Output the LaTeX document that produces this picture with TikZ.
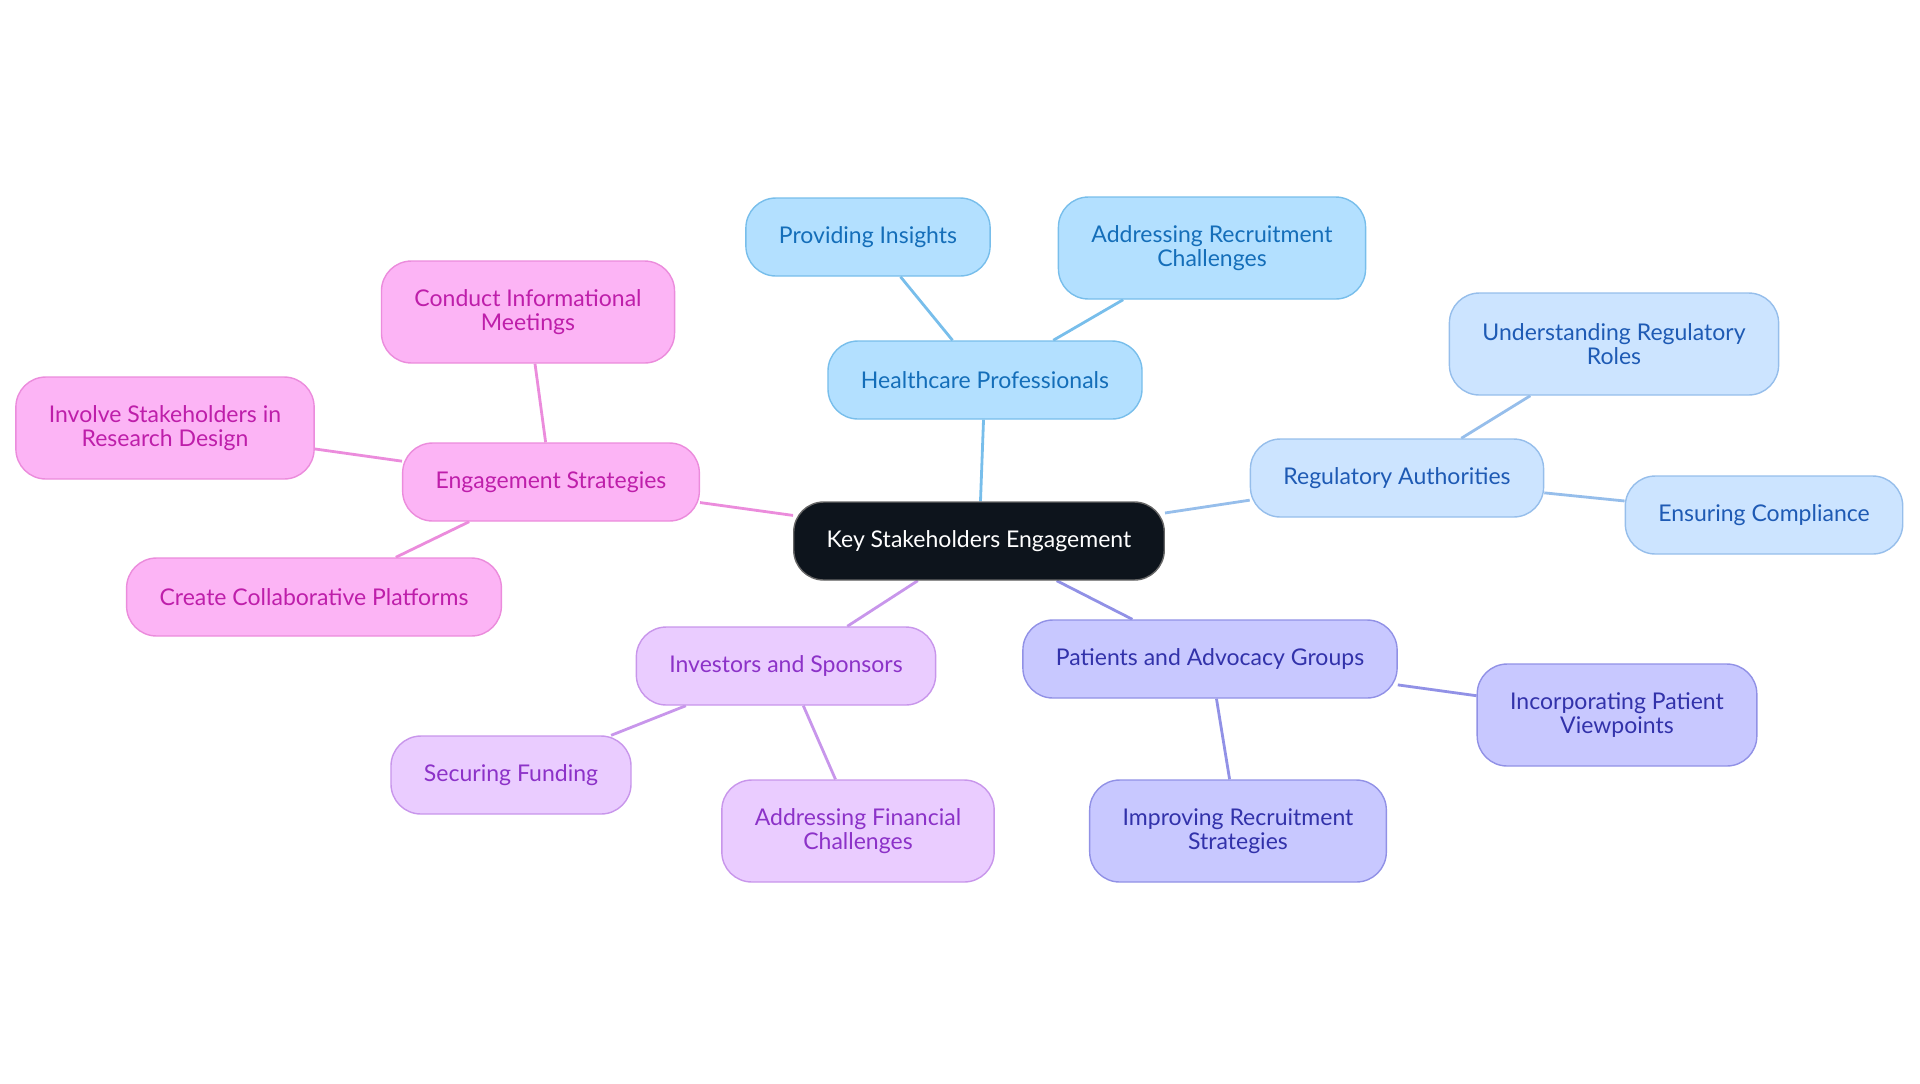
\documentclass[tikz,border=0pt]{standalone}
\usepackage{fontspec}
\setmainfont{Lato}
\usetikzlibrary{positioning, backgrounds}
\definecolor{rootfill}{RGB}{13,20,28}
\definecolor{hpfill}{RGB}{179,224,255}
\definecolor{hpdraw}{RGB}{120,190,235}
\definecolor{hptext}{RGB}{20,110,185}
\definecolor{regfill}{RGB}{204,228,255}
\definecolor{regdraw}{RGB}{150,190,235}
\definecolor{regtext}{RGB}{30,90,180}
\definecolor{patfill}{RGB}{200,200,255}
\definecolor{patdraw}{RGB}{145,145,230}
\definecolor{pattext}{RGB}{50,50,170}
\definecolor{invfill}{RGB}{234,204,255}
\definecolor{invdraw}{RGB}{200,150,235}
\definecolor{invtext}{RGB}{140,50,200}
\definecolor{engfill}{RGB}{252,180,245}
\definecolor{engdraw}{RGB}{235,140,220}
\definecolor{engtext}{RGB}{190,30,170}
\tikzset{
    topic/.style={rectangle, rounded corners=0.6cm, minimum height=1.56cm,
                  inner xsep=0.66cm, align=center, line width=0.8pt,
                  font=\fontsize{13.1}{13.4}\selectfont},
    twolines/.style={minimum height=2.04cm},
    root/.style={topic, fill=rootfill, draw=black!60, text=white},
    hp/.style={topic, fill=hpfill, draw=hpdraw, text=hptext},
    reg/.style={topic, fill=regfill, draw=regdraw, text=regtext},
    pat/.style={topic, fill=patfill, draw=patdraw, text=pattext},
    inv/.style={topic, fill=invfill, draw=invdraw, text=invtext},
    eng/.style={topic, fill=engfill, draw=engdraw, text=engtext},
    link/.style={line width=1.6pt}
}

\begin{document}
\begin{tikzpicture}[x=0.02cm, y=-0.02cm]
    \useasboundingbox (0,0) rectangle (1920,1083);

    % Root
    \node[root] (key) at (979,541) {Key Stakeholders Engagement};

    % Healthcare branch
    \node[hp] (health) at (985,380) {Healthcare Professionals};
    \node[hp] (insights) at (868,237) {Providing Insights};
    \node[hp, twolines] (recruit) at (1212,248) {Addressing Recruitment\\Challenges};

    % Regulatory branch
    \node[reg] (regul) at (1397,478) {Regulatory Authorities};
    \node[reg, twolines] (roles) at (1614,344) {Understanding Regulatory\\Roles};
    \node[reg] (comply) at (1764,515) {Ensuring Compliance};

    % Patients branch
    \node[pat] (patients) at (1210,659) {Patients and Advocacy Groups};
    \node[pat, twolines] (views) at (1617,715) {Incorporating Patient\\Viewpoints};
    \node[pat, twolines] (improve) at (1238,831) {Improving Recruitment\\Strategies};

    % Investors branch
    \node[inv] (investors) at (786,666) {Investors and Sponsors};
    \node[inv] (funding) at (511,775) {Securing Funding};
    \node[inv, twolines] (finance) at (858,831) {Addressing Financial\\Challenges};

    % Engagement branch
    \node[eng] (strategies) at (551,482) {Engagement Strategies};
    \node[eng, twolines] (meetings) at (528,312) {Conduct Informational\\Meetings};
    \node[eng, twolines] (involve) at (165,428) {Involve Stakeholders in\\Research Design};
    \node[eng] (platforms) at (314,597) {Create Collaborative Platforms};

    % Links
    \begin{scope}[on background layer]
        \draw[link, hpdraw] (key) -- (health);
        \draw[link, hpdraw] (health) -- (insights);
        \draw[link, hpdraw] (health) -- (recruit);
        \draw[link, regdraw] (key) -- (regul);
        \draw[link, regdraw] (regul) -- (roles);
        \draw[link, regdraw] (regul) -- (comply);
        \draw[link, patdraw] (key) -- (patients);
        \draw[link, patdraw] (patients) -- (views);
        \draw[link, patdraw] (patients) -- (improve);
        \draw[link, invdraw] (key) -- (investors);
        \draw[link, invdraw] (investors) -- (funding);
        \draw[link, invdraw] (investors) -- (finance);
        \draw[link, engdraw] (key) -- (strategies);
        \draw[link, engdraw] (strategies) -- (meetings);
        \draw[link, engdraw] (strategies) -- (involve);
        \draw[link, engdraw] (strategies) -- (platforms);
    \end{scope}
\end{tikzpicture}
\end{document}
